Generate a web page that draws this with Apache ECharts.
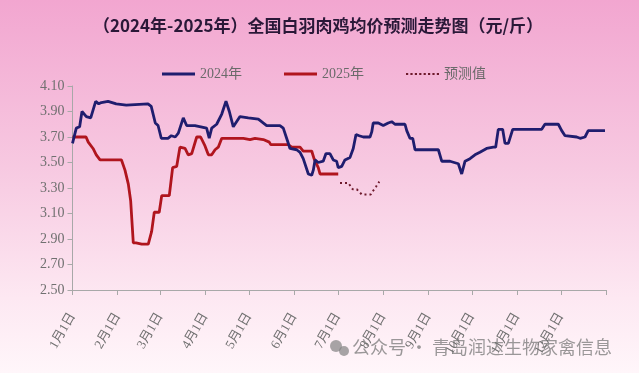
<!DOCTYPE html>
<html><head><meta charset="utf-8">
<script src="https://cdn.jsdelivr.net/npm/echarts@6/dist/echarts.min.js"></script>
<style>html,body{margin:0;padding:0;}#c{width:639px;height:373px;}</style>
</head><body><div id="c"></div>
<script>
// ---- data (day index within the year, 0 = Jan 1) ----
const days2024 = [0,2.6,4.9,6.5,9.5,12.5,15.9,18,19.8,24.4,30,36.9,51.8,54,56.8,58.7,60.9,65.5,67.8,70.5,72.6,76,78.3,84,92,93.8,95.5,98.9,102.4,105.3,107.6,110.3,114.9,120.6,127.5,133.2,142.3,144.6,146.9,149.2,153.8,156.1,158.3,159.5,161.8,164.1,165.2,166.4,168.6,172,173.9,176.6,178.9,181.2,182.3,184.7,186.9,190.4,192.6,194.5,196.7,199.5,204.1,205.3,206.3,209.8,213.2,216.6,219,221.2,228.1,229.3,231.5,233.4,235,251,253.3,259,264.7,267,269.3,272.7,276.1,279.5,284.1,288.7,290.3,292.1,295.1,296.7,299,302,321.9,324.1,333.3,335.6,337.9,345.9,348.2,351.6,353.8,365.3];
const vals2024 = [3.65,3.77,3.78,3.90,3.86,3.85,3.98,3.96,3.97,3.98,3.96,3.95,3.96,3.94,3.81,3.79,3.69,3.69,3.71,3.70,3.73,3.85,3.79,3.79,3.77,3.69,3.77,3.80,3.88,3.98,3.90,3.78,3.86,3.85,3.84,3.79,3.79,3.77,3.69,3.61,3.60,3.58,3.53,3.52,3.41,3.40,3.44,3.52,3.50,3.51,3.57,3.57,3.52,3.51,3.46,3.47,3.52,3.54,3.61,3.72,3.71,3.70,3.70,3.74,3.81,3.81,3.79,3.81,3.82,3.80,3.80,3.75,3.69,3.69,3.60,3.60,3.51,3.51,3.49,3.41,3.51,3.53,3.56,3.58,3.61,3.62,3.62,3.76,3.76,3.65,3.65,3.76,3.76,3.80,3.80,3.75,3.71,3.70,3.69,3.70,3.75,3.75];
const days2025 = [0,9.3,10.8,14.1,16.3,18.9,33.6,36,38.3,39.9,41.7,43.6,47.5,52,54.3,56.1,59.5,61.2,66.4,68.7,71.5,72.6,73.7,77.2,79.4,81.8,85.2,87.9,90.9,93.2,95.5,97.8,100,102.4,108,117.2,121.8,125.2,130.9,135,136,148,150.4,156.1,158.3,164.1,165.7,167,168.6,169.8,182.3];
const vals2025 = [3.70,3.70,3.66,3.61,3.56,3.52,3.52,3.44,3.33,3.20,2.87,2.87,2.86,2.86,2.96,3.11,3.11,3.24,3.24,3.46,3.47,3.48,3.62,3.61,3.56,3.57,3.70,3.70,3.63,3.56,3.56,3.60,3.62,3.69,3.69,3.69,3.68,3.69,3.68,3.66,3.64,3.64,3.62,3.62,3.59,3.59,3.53,3.53,3.46,3.41,3.41];
const daysForecast = [183.5,189.2,192.2,195,198.4,204.6,206.4,208.2,210.5];
const valsForecast = [3.34,3.34,3.29,3.29,3.25,3.25,3.28,3.31,3.35];
const monthTickDays = [0,31,60,91,121,152,182,213,244,274,305,335,366];
const monthLabels = ['1月1日','2月1日','3月1日','4月1日','5月1日','6月1日','7月1日','8月1日','9月1日','10月1日','11月1日','12月1日'];
const yTicks = [2.5,2.7,2.9,3.1,3.3,3.5,3.7,3.9,4.1];
const seriesNames = ['2024年','2025年','预测值'];
const titleText = '（2024年-2025年）全国白羽肉鸡均价预测走势图（元/斤）';
const watermark = '公众号 · 青岛润达生物家禽信息';

const zip = (a,b) => a.map((d,i)=>[d,b[i]]);
const chart = echarts.init(document.getElementById('c'), null, {renderer:'canvas'});
const serif = '"Liberation Serif","DejaVu Serif","Noto Sans CJK SC",serif';
// dotted legend icon made of small squares
let dotPath = 'path://';
for (let i = 0; i < 8; i++) dotPath += 'M' + (i*4) + ',0h2v2h-2z';
chart.setOption({
  animation:false,
  backgroundColor:{type:'linear',x:0,y:0,x2:0,y2:1,colorStops:[
    {offset:0,color:'#f2a6d0'},{offset:0.45,color:'#f7c9e1'},{offset:0.8,color:'#fde8f2'},{offset:1,color:'#fff6fa'}]},
  title:{text:titleText,left:88,top:12,textStyle:{fontSize:17,fontWeight:'bold',color:'#2a1838',fontFamily:'"Noto Sans CJK SC",sans-serif'}},
  legend:{left:157,top:62,itemGap:42,itemWidth:33,itemHeight:3,
    textStyle:{fontFamily:serif,fontSize:14,color:'#6a6a6a'},
    data:[{name:seriesNames[0],icon:'rect'},{name:seriesNames[1],icon:'rect'},{name:seriesNames[2],icon:dotPath}]},
  grid:{left:72.5,right:33,top:86,bottom:83},
  xAxis:{type:'value',min:0,max:366,
    axisLine:{show:true,lineStyle:{color:'#a8a8a8',width:1}},
    axisTick:{show:true,length:5,customValues:monthTickDays,lineStyle:{color:'#a8a8a8'}},
    splitLine:{show:false},
    axisLabel:{customValues:monthTickDays.slice(0,12),rotate:60,margin:24,
      fontFamily:serif,fontSize:13,color:'#707070',
      formatter:v=>monthLabels[monthTickDays.indexOf(v)]||''}},
  yAxis:{type:'value',min:2.5,max:4.1,
    axisLine:{show:true,lineStyle:{color:'#a8a8a8',width:1}},
    axisTick:{show:true,length:5,customValues:yTicks,lineStyle:{color:'#a8a8a8'}},
    splitLine:{show:false},
    axisLabel:{customValues:yTicks,margin:8,fontFamily:serif,fontSize:14,color:'#707070',
      formatter:v=>v.toFixed(2)}},
  series:[
    {name:seriesNames[0],type:'line',symbol:'none',data:zip(days2024,vals2024),
     lineStyle:{color:'#1f1d6e',width:2.8},itemStyle:{color:'#1f1d6e'},z:3},
    {name:seriesNames[1],type:'line',symbol:'none',data:zip(days2025,vals2025),
     lineStyle:{color:'#b0151e',width:2.8},itemStyle:{color:'#b0151e'},z:2},
    {name:seriesNames[2],type:'line',symbol:'none',data:zip(daysForecast,valsForecast),
     lineStyle:{color:'#6e1a2c',width:2,type:[2,3]},itemStyle:{color:'#6e1a2c'},z:2}
  ],
  graphic:[
    {type:'circle',shape:{cx:336,cy:346,r:6},style:{fill:'rgba(130,130,130,0.7)'}},
    {type:'circle',shape:{cx:344,cy:351,r:5},style:{fill:'rgba(130,130,130,0.7)'}},
    {type:'text',left:352,top:338,style:{text:watermark,fontSize:18,fill:'rgba(120,120,120,0.75)',fontFamily:'"Noto Sans CJK SC",sans-serif'}}
  ]
});
</script></body></html>
